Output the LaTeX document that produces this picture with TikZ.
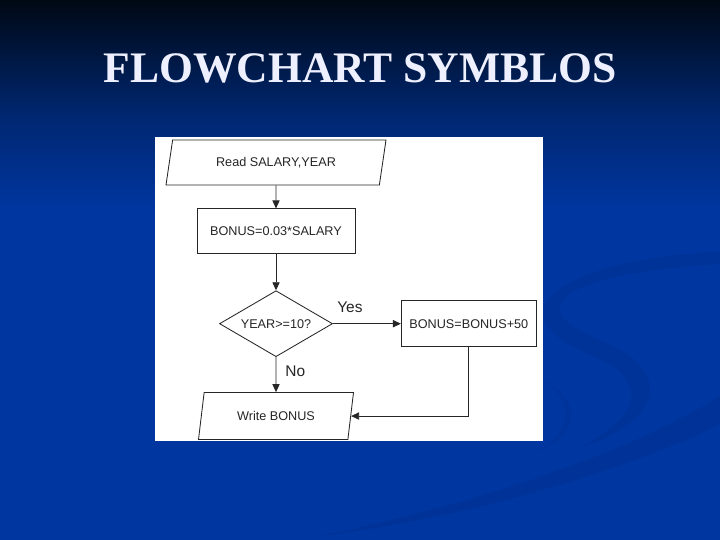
\documentclass[tikz,border=0pt]{standalone}
\usepackage{fontspec}
\usetikzlibrary{arrows.meta,positioning,shapes.geometric}
\setmainfont{Liberation Serif}
\newfontfamily\chartfont{Liberation Sans}
\definecolor{bgtop}{HTML}{000814}
\definecolor{bgmid}{HTML}{00266E}
\definecolor{bgblue}{HTML}{0036A0}
\definecolor{swoosh}{HTML}{002C84}
\definecolor{titlewhite}{HTML}{EEF0FF}
\definecolor{ink}{HTML}{262626}

\begin{document}
\begin{tikzpicture}[node distance=0.575cm and 1.7cm,>={Triangle[length=2mm,width=1.8mm]}]
\tikzset{procbox/.style={draw=ink,line width=0.6pt,minimum width=3.95cm,minimum height=1.125cm,inner sep=1pt,font=\chartfont\fontsize{9}{10}\selectfont,text=ink},
  iobox/.style={draw=ink,line width=0.6pt,trapezium,trapezium left angle=64,trapezium right angle=116,trapezium stretches body,minimum height=1.125cm,inner sep=1pt,font=\chartfont\fontsize{9}{10}\selectfont,text=ink},
  choice/.style={draw=ink,line width=0.6pt,diamond,aspect=1.7,minimum width=2.825cm,minimum height=1.65cm,inner sep=1pt,font=\chartfont\fontsize{9}{10}\selectfont,text=ink},
  flow/.style={->,line width=0.6pt,ink},
  branch/.style={font=\chartfont\fontsize{11}{12}\selectfont,text=ink}}
% background
\fill[bgblue] (0,0) rectangle (18,-13.5);
\shade[top color=bgtop,bottom color=bgmid] (0,0) rectangle (18,-2.8);
\shade[top color=bgmid,bottom color=bgblue] (0,-2.8) rectangle (18,-5.2);
\fill[swoosh,opacity=0.3] (8,-13.4) .. controls (12,-12.6) and (16,-11.2) .. (18,-9.9) -- (18,-10.6) .. controls (16,-11.6) and (12,-12.9) .. (8,-13.4);
\fill[swoosh,opacity=0.25] (18,-6.6) .. controls (14.5,-6.8) and (12.6,-7.6) .. (15.2,-8.6) .. controls (16.6,-9.2) and (16.8,-10.4) .. (14.5,-11.2) .. controls (16.2,-10.3) and (16.2,-9.4) .. (14.6,-8.8) .. controls (12,-7.6) and (14.8,-6.4) .. (18,-6.3);
\fill[swoosh,opacity=0.2] (13.6,-9.5) .. controls (14.8,-10.2) and (14.2,-11.0) .. (13.4,-11.3) .. controls (14.3,-10.8) and (14.4,-10.1) .. (13.6,-9.5);
\node[font=\fontsize{31}{33}\bfseries\selectfont,text=titlewhite] (title) at (9,-1.7) {FLOWCHART SYMBLOS};
% chart panel
\fill[white] (3.875,-3.425) rectangle (13.575,-11.025);
\node[iobox,minimum width=5.5cm] (read) at (6.9,-4.0625) {Read SALARY,YEAR};
\node[procbox,below=of read] (calc) {BONUS=0.03*SALARY};
\node[choice,below=0.9cm of calc] (test) {YEAR>=10?};
\node[procbox,right=of test,minimum width=3.375cm,minimum height=1.15cm] (add) {BONUS=BONUS+50};
\node[iobox,below=0.875cm of test,minimum width=3.875cm,minimum height=1.175cm,trapezium left angle=65,trapezium right angle=115] (write) {Write BONUS};
\draw[flow] (read)--(calc);
\draw[flow] (calc)--(test);
\draw[flow] (test)--node[branch,above,pos=0.25,yshift=4pt] {Yes} (add);
\draw[flow] (test)--node[branch,right,pos=0.4,xshift=3pt] {No} (write);
\draw[flow] (add.south)|-(write.east);
\end{tikzpicture}
\end{document}
